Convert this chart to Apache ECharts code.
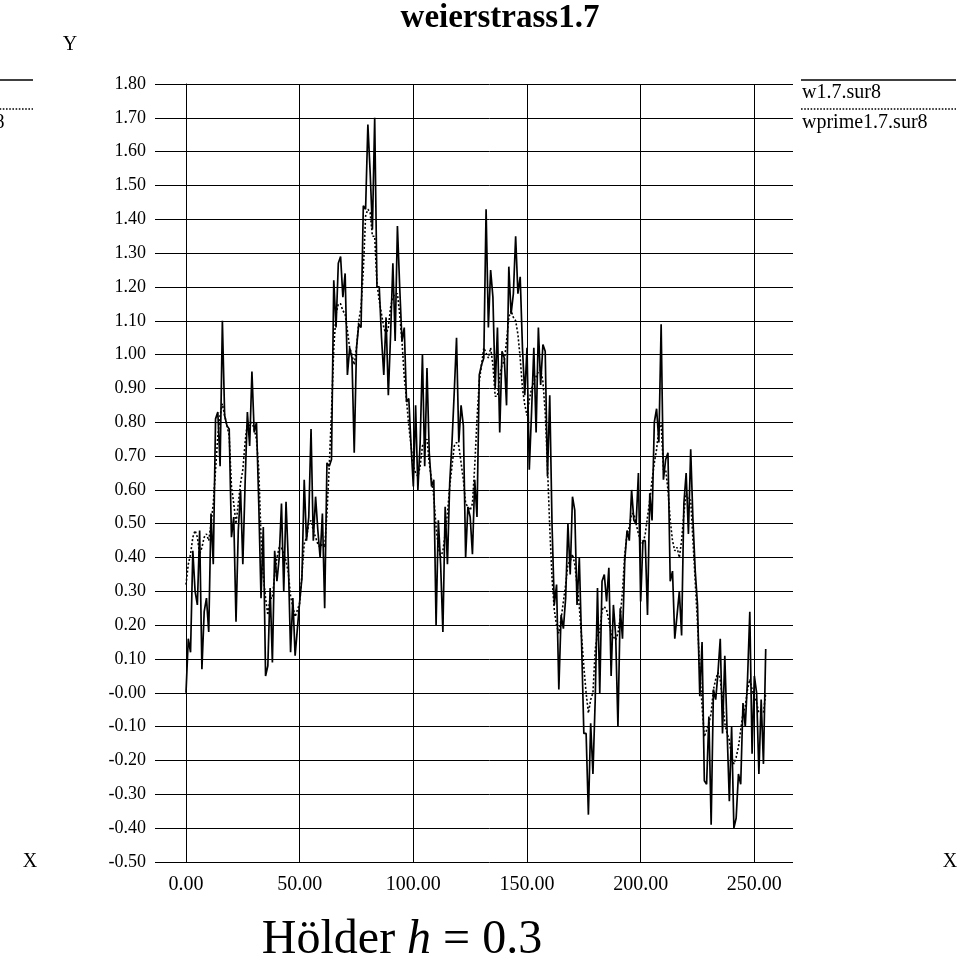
<!DOCTYPE html>
<html>
<head>
<meta charset="utf-8">
<script src="https://cdn.jsdelivr.net/npm/echarts@6/dist/echarts.min.js"></script>
<style>
html,body{margin:0;padding:0;background:#fff;}
#chart{width:970px;height:968px;}
</style>
</head>
<body>
<div id="chart"></div>
<script>
// ---- data ----
const seriesNames = ['w1.7.sur8', 'wprime1.7.sur8'];
const w = [
0.00,0.16,0.12,0.42,0.30,0.26,0.48,0.07,0.24,0.28,
0.18,0.53,0.38,0.81,0.83,0.67,1.10,0.82,0.79,0.78,
0.46,0.52,0.21,0.48,0.60,0.38,0.62,0.83,0.73,0.95,
0.77,0.80,0.56,0.28,0.49,0.05,0.08,0.31,0.09,0.42,
0.33,0.40,0.56,0.30,0.565,0.39,0.12,0.28,0.11,0.19,
0.27,0.34,0.63,0.45,0.52,0.78,0.45,0.58,0.48,0.40,
0.53,0.25,0.68,0.67,0.69,1.22,1.08,1.27,1.29,1.17,
1.24,0.94,1.02,0.99,0.71,1.02,1.09,1.08,1.44,1.43,
1.68,1.54,1.37,1.70,1.20,1.20,1.05,0.94,1.11,0.88,
1.06,1.27,1.04,1.38,1.20,1.04,1.08,0.86,0.87,0.73,
0.61,0.85,0.60,0.74,1.00,0.67,0.96,0.71,0.61,0.63,
0.20,0.51,0.38,0.18,0.55,0.38,0.62,0.74,0.89,1.05,
0.74,0.85,0.79,0.40,0.55,0.52,0.41,0.63,0.52,0.94,
0.97,0.99,1.43,1.08,1.25,1.17,0.90,1.08,0.77,1.01,
0.99,0.85,1.26,1.12,1.18,1.35,1.18,1.23,1.02,0.88,
1.02,0.66,0.83,1.02,0.77,1.08,0.91,1.03,1.01,0.64,
0.88,0.50,0.26,0.32,0.01,0.23,0.19,0.28,0.50,0.35,
0.58,0.54,0.26,0.40,0.15,-0.12,-0.12,-0.36,-0.09,-0.24,
-0.02,0.31,0.00,0.33,0.35,0.27,0.37,0.05,0.26,0.17,
-0.10,0.25,0.16,0.39,0.48,0.45,0.60,0.51,0.50,0.65,
0.27,0.45,0.45,0.23,0.59,0.51,0.80,0.84,0.74,1.09,
0.63,0.69,0.71,0.33,0.36,0.16,0.23,0.30,0.17,0.56,
0.65,0.47,0.72,0.51,0.36,0.26,-0.01,0.15,-0.26,-0.27,
-0.07,-0.39,0.01,-0.02,0.06,0.16,-0.12,0.11,-0.11,-0.32,
-0.10,-0.40,-0.37,-0.24,-0.27,-0.03,-0.10,0.04,0.24,-0.18,
0.05,0.00,-0.24,-0.02,-0.21,0.13
];
const wprime = [
0.32,0.38,0.41,0.46,0.48,0.46,0.41,0.43,0.46,0.47,
0.45,0.50,0.56,0.66,0.76,0.82,0.855,0.82,0.79,0.76,
0.61,0.56,0.50,0.56,0.62,0.66,0.74,0.80,0.79,0.80,
0.78,0.75,0.66,0.46,0.345,0.28,0.23,0.28,0.28,0.35,
0.40,0.43,0.43,0.41,0.39,0.356,0.285,0.255,0.225,0.245,
0.265,0.35,0.44,0.46,0.50,0.51,0.48,0.46,0.44,0.43,
0.44,0.43,0.53,0.67,0.83,1.02,1.12,1.15,1.15,1.13,
1.12,1.07,1.02,1.00,0.97,1.02,1.10,1.14,1.25,1.41,
1.43,1.42,1.35,1.35,1.21,1.16,1.12,1.08,1.06,1.08,
1.14,1.17,1.18,1.18,1.12,1.04,0.935,0.865,0.79,0.73,
0.67,0.65,0.64,0.67,0.73,0.74,0.75,0.68,0.63,0.58,
0.49,0.43,0.40,0.42,0.47,0.53,0.61,0.67,0.73,0.74,
0.73,0.68,0.63,0.56,0.55,0.54,0.56,0.67,0.81,0.92,
0.97,1.02,1.005,0.99,1.02,0.97,0.877,0.877,0.935,0.97,
0.98,1.04,1.11,1.13,1.11,1.10,1.06,0.99,0.90,0.853,
0.82,0.865,0.90,0.92,0.935,0.95,0.955,0.92,0.83,0.67,
0.49,0.34,0.245,0.20,0.176,0.22,0.27,0.32,0.38,0.39,
0.41,0.38,0.32,0.255,0.166,0.077,0.00,-0.06,-0.02,0.00,
0.127,0.176,0.18,0.245,0.255,0.245,0.215,0.176,0.166,0.156,
0.176,0.225,0.30,0.41,0.47,0.49,0.53,0.53,0.50,0.47,
0.45,0.44,0.47,0.52,0.57,0.63,0.68,0.72,0.78,0.80,
0.66,0.66,0.60,0.51,0.45,0.42,0.43,0.40,0.45,0.53,
0.59,0.57,0.57,0.45,0.327,0.205,0.07,-0.04,-0.13,-0.11,
-0.09,-0.06,0.01,0.04,0.06,0.04,-0.02,-0.09,-0.12,-0.14,
-0.19,-0.21,-0.19,-0.16,-0.11,-0.06,-0.04,0.01,0.04,0.01,
-0.01,-0.03,-0.06,-0.06,-0.06,0.00
];
const yTickLabels = ['-0.50','-0.40','-0.30','-0.20','-0.10','-0.00','0.10','0.20','0.30','0.40','0.50','0.60','0.70','0.80','0.90','1.00','1.10','1.20','1.30','1.40','1.50','1.60','1.70','1.80'];
const xTickLabels = ['0.00','50.00','100.00','150.00','200.00','250.00'];
const titleText = 'weierstrass1.7';

// ---- chart ----
const chart = echarts.init(document.getElementById('chart'), null, {renderer: 'canvas'});
const serif = '"Liberation Serif", "Times New Roman", serif';
const gridLine = {color: '#000', width: 1};

function legendBlock(x0, texts) {
  const els = [];
  els.push({type: 'line', shape: {x1: x0, y1: 80, x2: x0 + 155, y2: 80}, style: {stroke: '#000', lineWidth: 1.6}, z: 10});
  els.push({type: 'text', x: x0 + 1, y: 93, style: {text: texts[0], font: '20px ' + serif, fill: '#000', textVerticalAlign: 'middle', textAlign: 'left'}, z: 10});
  els.push({type: 'line', shape: {x1: x0, y1: 109, x2: x0 + 155, y2: 109}, style: {stroke: '#000', lineWidth: 1.6, lineDash: [1.6, 1.6]}, z: 10});
  els.push({type: 'text', x: x0 + 1, y: 123, style: {text: texts[1], font: '20px ' + serif, fill: '#000', textVerticalAlign: 'middle', textAlign: 'left'}, z: 10});
  return els;
}

const graphics = [
  {type: 'text', x: 500, y: 18, style: {text: titleText, font: 'bold 33px ' + serif, fill: '#000', textAlign: 'center', textVerticalAlign: 'middle'}},
  {type: 'text', x: 70, y: 45, style: {text: 'Y', font: '20px ' + serif, fill: '#000', textAlign: 'center', textVerticalAlign: 'middle'}},
  {type: 'text', x: 30, y: 862, style: {text: 'X', font: '20px ' + serif, fill: '#000', textAlign: 'center', textVerticalAlign: 'middle'}},
  {type: 'text', x: 950, y: 862, style: {text: 'X', font: '20px ' + serif, fill: '#000', textAlign: 'center', textVerticalAlign: 'middle'}},
  {type: 'text', x: 402, y: 940, style: {
    text: '{a|Hölder }{b|h}{a| = 0.3}', textAlign: 'center', textVerticalAlign: 'middle',
    rich: {
      a: {font: '48px ' + serif, fill: '#000'},
      b: {font: 'italic 48px ' + serif, fill: '#000'}
    }
  }}
].concat(legendBlock(801, seriesNames)).concat(legendBlock(33 - 155, seriesNames));

const option = {
  animation: false,
  backgroundColor: '#fff',
  grid: {left: 186, right: 177, top: 84, bottom: 106, containLabel: false},
  xAxis: {
    type: 'value', min: 0, max: 267, interval: 50,
    axisLine: {show: true, lineStyle: gridLine},
    axisTick: {show: false},
    axisLabel: {
      margin: 13, fontFamily: serif, fontSize: 20, color: '#000',
      showMaxLabel: false,
      formatter: function (v) { const k = Math.round(v / 50); return (Math.abs(v - k * 50) < 1e-6 && k < xTickLabels.length) ? xTickLabels[k] : ''; }
    },
    splitLine: {show: true, lineStyle: gridLine, showMaxLine: false}
  },
  yAxis: {
    type: 'value', min: -0.5, max: 1.8, interval: 0.1,
    axisLine: {show: true, onZero: false, lineStyle: gridLine},
    axisTick: {show: true, length: 31, lineStyle: gridLine},
    axisLabel: {
      margin: 40, fontFamily: serif, fontSize: 18, color: '#000',
      formatter: function (v) { return yTickLabels[Math.round((v + 0.5) * 10)] || ''; }
    },
    splitLine: {show: true, lineStyle: gridLine}
  },
  series: [
    {name: seriesNames[0], type: 'line', data: w.map((v, i) => [i, v]), showSymbol: false, symbol: 'none',
     lineStyle: {color: '#000', width: 1.7}, z: 3},
    {name: seriesNames[1], type: 'line', data: wprime.map((v, i) => [i, v]), showSymbol: false, symbol: 'none',
     lineStyle: {color: '#000', width: 1.6, type: [2, 2]}, z: 4}
  ],
  graphic: graphics
};
chart.setOption(option);
</script>
</body>
</html>
